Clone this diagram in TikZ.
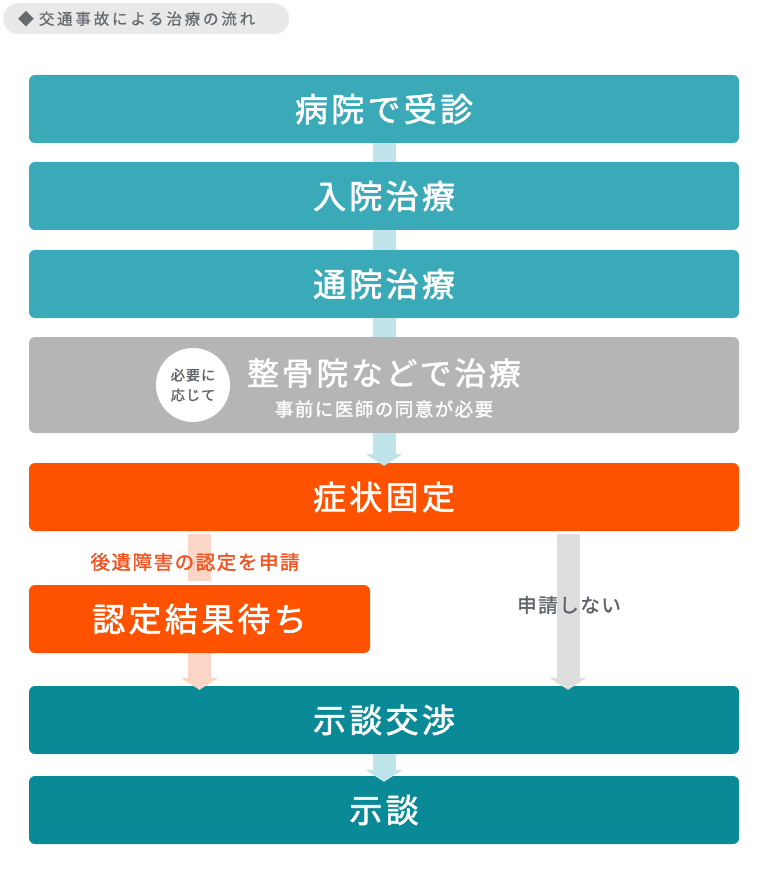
\documentclass[tikz,border=0pt]{standalone}
\usepackage{fontspec}
\setmainfont{Noto Sans CJK JP}
\newfontfamily\jpmed[LetterSpace=10,FakeBold=1.8]{Noto Sans CJK JP}
\newfontfamily\jplbl[LetterSpace=8,FakeBold=1.5]{Noto Sans CJK JP}
\newfontfamily\jptag[LetterSpace=18,FakeBold=0.8]{Noto Sans CJK JP}
\usetikzlibrary{arrows.meta}
\definecolor{tealbox}{HTML}{3AA9B8}
\definecolor{tealdark}{HTML}{0A8A97}
\definecolor{linkc}{HTML}{BFE4E9}
\definecolor{graybox}{HTML}{B5B5B5}
\definecolor{orangebox}{HTML}{FF5200}
\definecolor{paleorange}{HTML}{FBD6C6}
\definecolor{palegray}{HTML}{DEDEDE}
\definecolor{tagbg}{HTML}{E9E9E9}
\definecolor{tagtext}{HTML}{666B70}
\definecolor{labelorange}{HTML}{EE5522}
\definecolor{labelgray}{HTML}{5D6369}
\tikzset{
    box/.style={rounded corners=6pt, minimum width=710pt, minimum height=68pt, inner sep=0pt,
        text=white, font=\jpmed\fontsize{33}{33}\selectfont},
    fat/.style={line width=23pt, -{Triangle[width=37pt,length=12pt]}},
    shaft/.style={line width=23pt},
    lbl/.style={inner sep=0pt, font=\jplbl\fontsize{19.5}{19.5}\selectfont}
}
\begin{document}
\begin{tikzpicture}[x=1pt,y=-1pt]
    \useasboundingbox (0,0) rectangle (768,890);
    % title tag
    \node[fill=tagbg, rounded corners=15.5pt, anchor=north west, minimum height=31pt,
        inner xsep=15pt, inner ysep=0pt, text width=256pt, align=left, text=tagtext,
        font=\jptag\fontsize{15.5}{15.5}\selectfont] (tag) at (3,3) {◆ 交通事故による治療の流れ};
    % boxes
    \node[box, fill=tealbox] (visit) at (384,109) {病院で受診};
    \node[box, fill=tealbox] (stay) at (384,196) {入院治療};
    \node[box, fill=tealbox] (outp) at (384,284) {通院治療};
    \node[box, fill=graybox, minimum height=96pt] (bone) at (384,385) {};
    \node[box, fill=orangebox] (fixed) at (384,497) {症状固定};
    \node[box, fill=orangebox, minimum width=341pt] (waitres) at (199.5,619) {認定結果待ち};
    \node[box, fill=tealdark] (nego) at (384,720) {示談交渉};
    \node[box, fill=tealdark] (settle) at (384,810) {示談};
    % inside the gray box
    \node[circle, fill=white, minimum size=74pt, inner sep=0pt, align=center, text=labelgray,
        font=\jplbl\fontsize{14}{20}\selectfont] (need) at (193,385) {必要に\\応じて};
    \node[inner sep=0pt, text=white, font=\jpmed\fontsize{31.5}{31.5}\selectfont] (bonet) at (384,373) {整骨院などで治療};
    \node[inner sep=0pt, text=white, font=\jplbl\fontsize{18.5}{18.5}\selectfont] (bones) at (384,409) {事前に医師の同意が必要};
    % links
    \fill[linkc] ([xshift=-11.5pt]visit.south) rectangle ([xshift=11.5pt]stay.north);
    \fill[linkc] ([xshift=-11.5pt]stay.south) rectangle ([xshift=11.5pt]outp.north);
    \fill[linkc] ([xshift=-11.5pt]outp.south) rectangle ([xshift=11.5pt]bone.north);
    \draw[fat, linkc] (bone.south) -- ([yshift=-3pt]fixed.north);
    \draw[fat, linkc] (nego.south) -- ([yshift=-6pt]settle.north);
    % branches
    \coordinate (lefttop) at ([yshift=-3pt]fixed.south -| waitres.north);
    \coordinate (righttop) at ([yshift=-3pt,xshift=184pt]fixed.south);
    \draw[shaft, paleorange] (lefttop) -- ([yshift=4pt]waitres.north);
    \draw[fat, paleorange] (waitres.south) -- ([yshift=-4pt]nego.north -| waitres.south);
    \draw[fat, palegray] (righttop) -- ([yshift=-4pt]nego.north -| righttop);
    \node[lbl, text=labelorange] (apply) at (195,562) {後遺障害の認定を申請};
    \node[lbl, text=labelgray] (noapply) at (569,605) {申請しない};
\end{tikzpicture}
\end{document}
